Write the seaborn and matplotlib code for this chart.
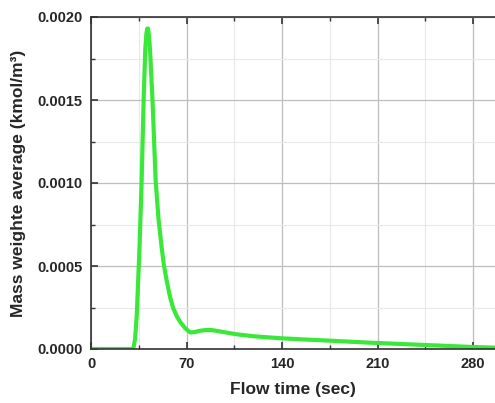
import matplotlib
matplotlib.use("Agg")
import matplotlib.pyplot as plt
import seaborn as sns
import pandas as pd
from matplotlib.ticker import MultipleLocator, FormatStrFormatter

flow_time = [0, 30, 31.2, 32.3, 33.5, 35.5, 37.1, 38.6, 39.8, 40.6, 41.2, 41.8, 42.4, 43.2,
             45, 47.4, 49.5, 51.8, 53.5, 55.5, 58, 60.3, 63, 65.2, 69, 72.6, 76, 80, 84,
             88.5, 95, 106.8, 120, 139.8, 160, 175.2, 204.5, 245, 280, 296]
mass_avg = [0, 0, 0.00001, 0.00006, 0.0002, 0.0006, 0.00101, 0.00151, 0.00181, 0.00190,
            0.00193, 0.00193, 0.00189, 0.00181, 0.00151, 0.00101, 0.00078, 0.00061,
            0.0005, 0.00041, 0.00031, 0.000245, 0.000195, 0.000165, 0.000125, 0.0001,
            0.000102, 0.00011, 0.000114, 0.000114, 0.000105, 0.0000885, 0.000076,
            0.0000643, 0.000056, 0.00005, 0.000038, 0.000024, 0.000012, 0.000008]
x_ticks = [0, 70, 140, 210, 280]
y_ticks = [0.0, 0.0005, 0.0010, 0.0015, 0.0020]

sns.set_style("white")
plt.rcParams['font.family'] = ['Liberation Sans', 'DejaVu Sans']

df = pd.DataFrame({"t": flow_time, "m": mass_avg})

fig = plt.figure(figsize=(4.95, 4.03), dpi=100)
ax = fig.add_axes([91/495, 1-349/403, 1-91/495, (349-17)/403])

ax.set_xlim(0, 296)
ax.set_ylim(0, 0.0020)
ax.set_xticks(x_ticks)
ax.set_yticks(y_ticks)
ax.xaxis.set_minor_locator(MultipleLocator(35))
ax.yaxis.set_minor_locator(MultipleLocator(0.00025))
ax.yaxis.set_major_formatter(FormatStrFormatter('%.4f'))

ax.grid(True, which='major', color='#bdbdbd', linewidth=0.9)
ax.grid(True, which='minor', color='#e8e8e8', linewidth=0.8)
ax.set_axisbelow(True)

sns.lineplot(data=df, x="t", y="m", ax=ax, color='#3ae83a', linewidth=3.0)

for s in ['left', 'bottom', 'top']:
    ax.spines[s].set_color('#333333')
    ax.spines[s].set_linewidth(1.2)
ax.spines['right'].set_visible(False)

ax.tick_params(which='both', direction='in', top=True, bottom=True, left=True, right=False,
               color='#333333')
ax.tick_params(which='major', length=5, width=1.2, labelsize=10.5, pad=6)
ax.tick_params(which='minor', length=3, width=1.0)
for lab in ax.get_xticklabels() + ax.get_yticklabels():
    lab.set_fontweight('bold')

ax.set_xlabel("Flow time (sec)", fontsize=12.5, fontweight='bold', labelpad=8)
ax.set_ylabel("Mass weighte average (kmol/m³)", fontsize=12.5, fontweight='bold', labelpad=8)

fig.savefig("out.png", dpi=100)
